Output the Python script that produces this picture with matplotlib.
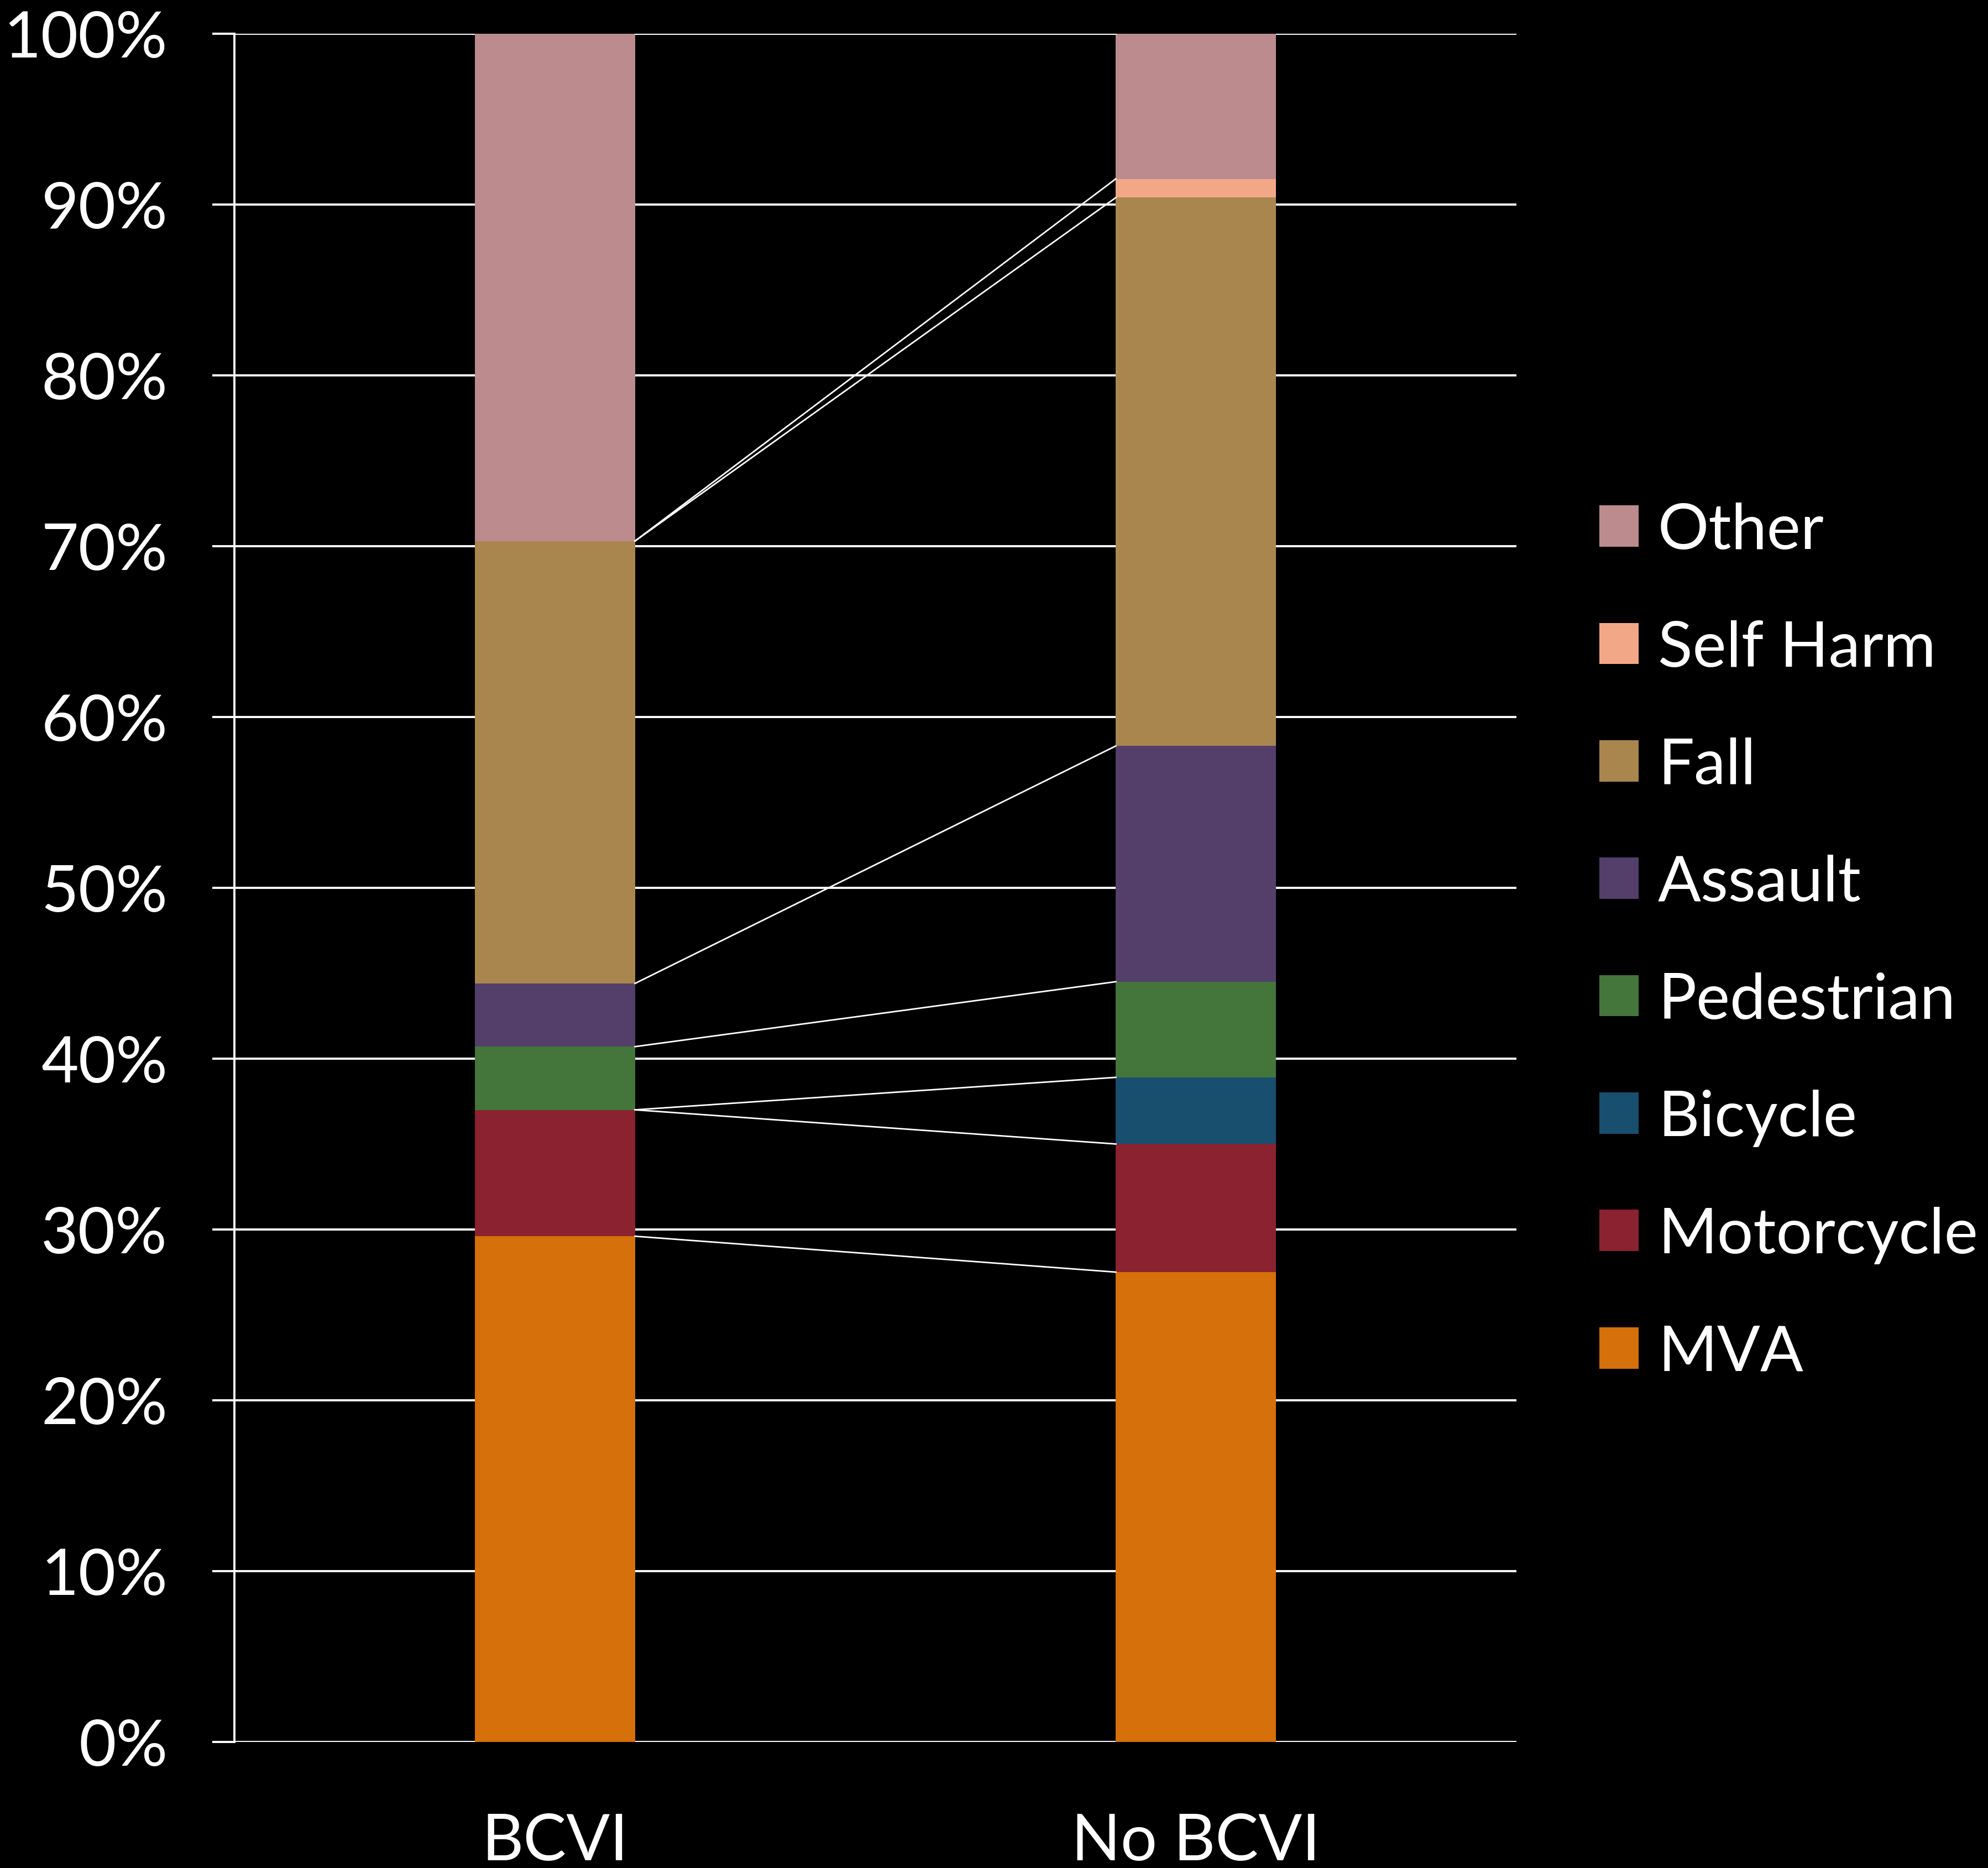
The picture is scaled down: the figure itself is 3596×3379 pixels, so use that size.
"""Mechanism of injury, BCVI vs no BCVI, as 100% stacked bars with series lines."""

import matplotlib.pyplot as plt
import numpy as np

groups = ["BCVI", "No BCVI"]
causes = ["MVA", "Motorcycle", "Bicycle", "Pedestrian", "Assault", "Fall", "Self Harm", "Other"]
bcvi = [29.6, 7.4, 0.0, 3.7, 3.7, 25.9, 0.0, 29.7]
no_bcvi = [27.5, 7.5, 3.9, 5.6, 13.8, 32.1, 1.1, 8.5]
colors = ["#D5700A", "#8B2230", "#184E6E", "#44753A", "#533F6A", "#AA864F", "#F2A886", "#BC8B8D"]
yticks = list(range(0, 101, 10))

plt.rcParams["font.family"] = ["Lato", "DejaVu Sans"]

fig = plt.figure(figsize=(35.96, 33.80), dpi=100, facecolor="black")
ax = fig.add_axes([0.1179, 0.0675, 0.6449, 0.9142])
ax.set_facecolor("black")

x = np.arange(len(groups))
width = 0.25
values = np.array([bcvi, no_bcvi]).T
bottoms = np.zeros(len(groups))
handles = []
for cause, row, color in zip(causes, values, colors):
    h = ax.bar(x, row, width, bottom=bottoms, color=color, label=cause, zorder=3)
    handles.append(h)
    bottoms = bottoms + row
    # series line joining the top of this segment across the two bars
    ax.plot([x[0] + width / 2, x[1] - width / 2], bottoms, color="white", lw=2.0, zorder=4)

ax.set_xlim(-0.5, 1.5)
ax.set_ylim(0, 100)
ax.set_yticks(yticks)
ax.set_yticklabels([f"{t}%" for t in yticks])
ax.set_xticks(x)
ax.set_xticklabels(groups)

ax.yaxis.grid(True, color="white", lw=2.8, zorder=0)
ax.set_axisbelow(True)
for side in ["top", "right", "bottom"]:
    ax.spines[side].set_visible(False)
ax.spines["left"].set_color("white")
ax.spines["left"].set_linewidth(2.8)

ax.tick_params(axis="y", colors="white", labelsize=84, length=29, width=2.8, pad=58)
ax.tick_params(axis="x", colors="white", labelsize=84, length=0, pad=92)

leg = ax.legend(handles[::-1], causes[::-1], loc="upper left", bbox_to_anchor=(0.8045, 0.731),
                bbox_transform=fig.transFigure, frameon=False, fontsize=83,
                handlelength=0.62, handleheight=0.62, handletextpad=0.3,
                labelspacing=0.94, borderpad=0, borderaxespad=0)
for t in leg.get_texts():
    t.set_color("white")

fig.savefig("out.png", dpi=100, facecolor="black")
